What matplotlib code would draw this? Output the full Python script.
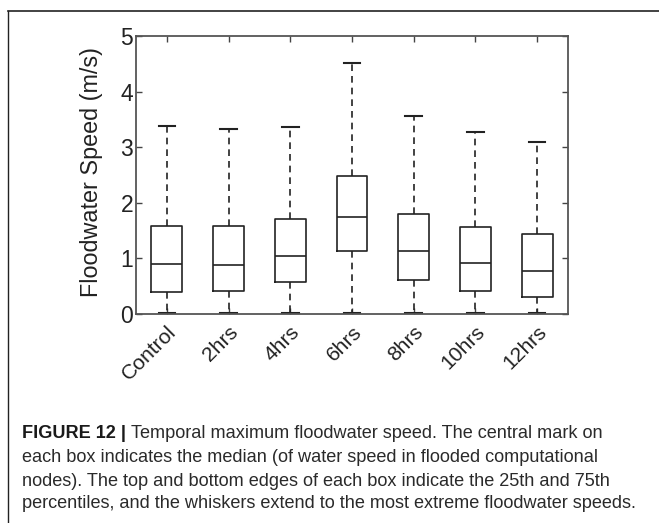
import matplotlib
matplotlib.use("Agg")
import matplotlib.pyplot as plt
from matplotlib.lines import Line2D

categories = ["Control", "2hrs", "4hrs", "6hrs", "8hrs", "10hrs", "12hrs"]
whisker_low = [0.01, 0.01, 0.01, 0.01, 0.01, 0.01, 0.01]
q1 = [0.39, 0.42, 0.58, 1.13, 0.61, 0.41, 0.30]
median = [0.90, 0.89, 1.05, 1.75, 1.14, 0.92, 0.78]
q3 = [1.58, 1.58, 1.70, 2.48, 1.79, 1.56, 1.43]
whisker_high = [3.39, 3.33, 3.37, 4.51, 3.56, 3.27, 3.10]
yticks = [0, 1, 2, 3, 4, 5]

plt.rcParams['font.family'] = ['Liberation Sans', 'DejaVu Sans']

W, H = 659, 523
fig = plt.figure(figsize=(W / 100, H / 100), dpi=100)

ax = fig.add_axes([136 / W, 1 - 314 / H, (568 - 136) / W, (314 - 36) / H])

stats = []
for i, c in enumerate(categories):
    stats.append(dict(label=c, whislo=whisker_low[i], q1=q1[i], med=median[i],
                      q3=q3[i], whishi=whisker_high[i], fliers=[]))

ax.bxp(stats, positions=range(1, len(categories) + 1), widths=0.5,
       showfliers=False,
       boxprops=dict(color='#222222', linewidth=1.2),
       medianprops=dict(color='#222222', linewidth=1.2),
       whiskerprops=dict(color='#222222', linewidth=1.2, linestyle=(0, (4, 3))),
       capprops=dict(color='#222222', linewidth=1.5),
       capwidths=0.27)

ax.set_xlim(0.5, len(categories) + 0.5)
ax.set_ylim(0, 5)
ax.set_yticks(yticks)
ax.set_yticklabels([str(t) for t in yticks])
ax.set_xticks(range(1, len(categories) + 1))
ax.set_xticklabels(categories, rotation=45, ha='right', rotation_mode='anchor')
ax.tick_params(axis='both', direction='in', length=4, width=1, color='#444444',
               labelcolor='#222222', top=True, right=True)
ax.tick_params(axis='y', labelsize=16.5, pad=2)
ax.tick_params(axis='x', labelsize=15.2, pad=6)
for s in ax.spines.values():
    s.set_color('#555555')
    s.set_linewidth(1.3)
ax.set_ylabel("Floodwater Speed (m/s)", fontsize=16.8, color='#222222')
ax.yaxis.label.set_va('center')
ax.yaxis.set_label_coords(-0.103, 0.51)

# frame lines
fig.add_artist(Line2D([8 / W, 8 / W], [0, 1 - 11 / H], color='#222222', lw=1.0,
                      transform=fig.transFigure))
fig.add_artist(Line2D([8 / W, 1], [1 - 11 / H, 1 - 11 / H], color='#222222', lw=1.2,
                      transform=fig.transFigure))

# caption
lines = [
    "Temporal maximum floodwater speed. The central mark on",
    "each box indicates the median (of water speed in flooded computational",
    "nodes). The top and bottom edges of each box indicate the 25th and 75th",
    "percentiles, and the whiskers extend to the most extreme floodwater speeds.",
]
cap_fam = ['Liberation Sans', 'DejaVu Sans']
fs = 13.1
ys = [434, 458, 481, 504]
x0 = 22 / W
t = fig.text(x0, 1 - ys[0] / H, "FIGURE 12 | ", fontsize=fs, fontweight='bold',
             family=cap_fam, color='#1a1a1a', va='center')
fig.canvas.draw()
bb = t.get_window_extent()
x1 = bb.x1 / W
fig.text(x1, 1 - ys[0] / H, lines[0], fontsize=fs, family=cap_fam,
         color='#2a2a2a', va='center')
for y, s in zip(ys[1:], lines[1:]):
    fig.text(x0, 1 - y / H, s, fontsize=fs, family=cap_fam, color='#2a2a2a',
             va='center')

fig.savefig("out.png", dpi=100)
